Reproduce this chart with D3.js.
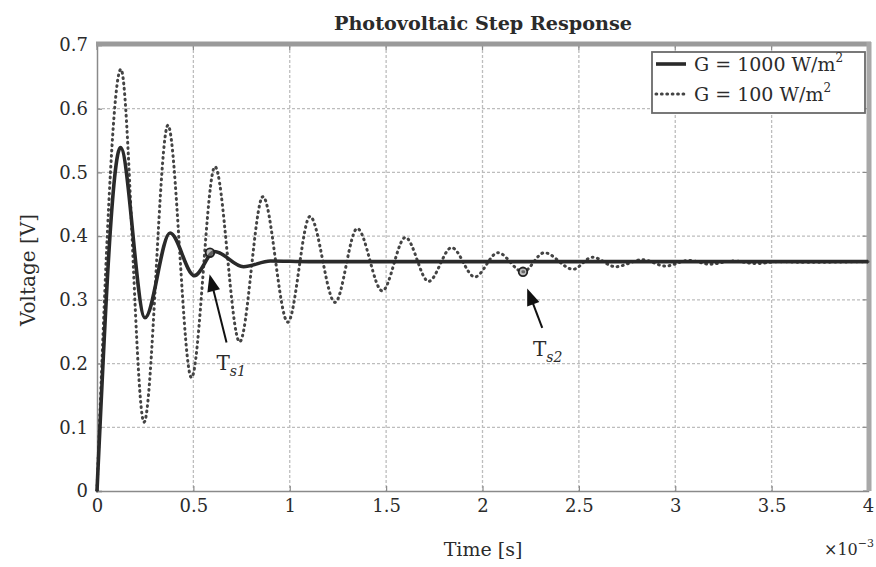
<!DOCTYPE html>
<html>
<head>
<meta charset="utf-8">
<script src="https://cdn.jsdelivr.net/npm/d3@7"></script>
<style>
  html, body { margin: 0; padding: 0; background: #fff; }
  svg { display: block; }
  text { font-family: "DejaVu Serif", "Liberation Serif", serif; fill: #2b2b2b; }
</style>
</head>
<body>
<svg id="chart" width="876" height="567"></svg>
<script>
// ---- data (time in ms, i.e. ×10^-3 s; voltage in V) ----
const timeG1000 = [0, 0.122, 0.249, 0.379, 0.505, 0.61, 0.76, 0.9, 1.1, 4.0];
const voltG1000 = [0, 0.539, 0.272, 0.405, 0.338, 0.376, 0.352, 0.361, 0.36, 0.36];

const timeG100 = [0, 0.124, 0.244, 0.368, 0.49, 0.612, 0.74, 0.861, 0.99, 1.105, 1.235, 1.35, 1.48, 1.60, 1.72, 1.84, 1.96, 2.08, 2.21, 2.32, 2.47, 2.57, 2.69, 2.83, 2.95, 3.07, 3.18, 3.30, 3.42, 3.54, 3.66, 4.0];
const voltG100 = [0, 0.662, 0.108, 0.574, 0.178, 0.509, 0.234, 0.462, 0.265, 0.431, 0.296, 0.412, 0.314, 0.398, 0.329, 0.382, 0.336, 0.374, 0.344, 0.374, 0.348, 0.367, 0.352, 0.363, 0.353, 0.362, 0.356, 0.361, 0.357, 0.36, 0.359, 0.36];

const xTicks = [0, 0.5, 1, 1.5, 2, 2.5, 3, 3.5, 4];
const xTickLabels = ["0", "0.5", "1", "1.5", "2", "2.5", "3", "3.5", "4"];
const yTicks = [0, 0.1, 0.2, 0.3, 0.4, 0.5, 0.6, 0.7];
const yTickLabels = ["0", "0.1", "0.2", "0.3", "0.4", "0.5", "0.6", "0.7"];

const seriesNames = ["G = 1000 W/m", "G = 100 W/m"];

// settling-time markers: [time, voltage] of the marked point
const settleLabels = ["s1", "s2"];
const settlePoints = [[0.586, 0.374], [2.21, 0.344]];
const arrowTips = [[0.584, 0.34], [2.232, 0.318]];
const arrowTails = [[0.672, 0.233], [2.31, 0.256]];
const labelAnchors = [[0.62, 0.19], [2.262, 0.212]];

// ---- layout ----
const svg = d3.select("#chart");
const x0 = 97, x1 = 868, yTop = 45, yBot = 491;
const x = d3.scaleLinear().domain([0, 4]).range([x0, x1]);
const y = d3.scaleLinear().domain([0, 0.7]).range([yBot, yTop]);

// grid
const grid = svg.append("g");
grid.selectAll("line.vg").data(xTicks.slice(1, -1)).join("line")
  .attr("x1", d => x(d)).attr("x2", d => x(d))
  .attr("y1", yTop).attr("y2", yBot)
  .attr("stroke", "#bdbdbd").attr("stroke-width", 1.3).attr("stroke-dasharray", "3,2");
grid.selectAll("line.hg").data(yTicks.slice(1, -1)).join("line")
  .attr("x1", x0).attr("x2", x1)
  .attr("y1", d => y(d)).attr("y2", d => y(d))
  .attr("stroke", "#bdbdbd").attr("stroke-width", 1.3).attr("stroke-dasharray", "3,2");

// axes (MATLAB style: inward ticks)
const xAxis = d3.axisBottom(x).tickValues(xTicks).tickFormat((d, i) => xTickLabels[i]).tickSize(-5).tickPadding(8);
const yAxis = d3.axisLeft(y).tickValues(yTicks).tickFormat((d, i) => yTickLabels[i]).tickSize(-5).tickPadding(9);
const gx = svg.append("g").attr("transform", `translate(0,${yBot})`).call(xAxis);
const gy = svg.append("g").attr("transform", `translate(${x0},0)`).call(yAxis);
[gx, gy].forEach(g => {
  g.select(".domain").attr("stroke", "#8a8a8a").attr("stroke-width", 1.5);
  g.selectAll(".tick line").attr("stroke", "#8a8a8a").attr("stroke-width", 1.2);
  g.selectAll(".tick text").attr("font-family", "DejaVu Serif, serif").attr("font-size", 18).attr("fill", "#2b2b2b");
});
// top and right ticks
svg.append("g").selectAll("line").data(xTicks).join("line")
  .attr("x1", d => x(d)).attr("x2", d => x(d)).attr("y1", yTop).attr("y2", yTop + 5)
  .attr("stroke", "#8a8a8a").attr("stroke-width", 1.2);
svg.append("g").selectAll("line").data(yTicks).join("line")
  .attr("x1", x1 - 5).attr("x2", x1).attr("y1", d => y(d)).attr("y2", d => y(d))
  .attr("stroke", "#8a8a8a").attr("stroke-width", 1.2);
// thick top & right frame
svg.append("line").attr("x1", x0 - 1).attr("x2", x1 + 3).attr("y1", yTop - 1).attr("y2", yTop - 1)
  .attr("stroke", "#9a9a9a").attr("stroke-width", 5);
svg.append("line").attr("x1", x1 + 1).attr("x2", x1 + 1).attr("y1", yTop - 3).attr("y2", yBot)
  .attr("stroke", "#a8a8a8").attr("stroke-width", 5);

// lines
const lineGen = d3.line().x(d => x(d[0])).y(d => y(d[1])).curve(d3.curveMonotoneX);
const dataG100 = timeG100.map((t, i) => [t, voltG100[i]]);
const dataG1000 = timeG1000.map((t, i) => [t, voltG1000[i]]);

svg.append("path").datum(dataG100).attr("d", lineGen)
  .attr("fill", "none").attr("stroke", "#444").attr("stroke-width", 3)
  .attr("stroke-dasharray", "0.8,4.6").attr("stroke-linecap", "round");
svg.append("path").datum(dataG1000).attr("d", lineGen)
  .attr("fill", "none").attr("stroke", "#2a2a2a").attr("stroke-width", 3.6)
  .attr("stroke-linejoin", "round");

// settling markers & arrows
const headLen = 17, headHalf = 6.5;
settleLabels.forEach((lab, i) => {
  svg.append("circle").attr("cx", x(settlePoints[i][0])).attr("cy", y(settlePoints[i][1]))
    .attr("r", 4.3).attr("fill", "#888").attr("fill-opacity", 0.55).attr("stroke", "#222").attr("stroke-width", 1.8);
  const tx = x(arrowTips[i][0]), ty = y(arrowTips[i][1]);
  const sxp = x(arrowTails[i][0]), syp = y(arrowTails[i][1]);
  const dx = tx - sxp, dy = ty - syp, L = Math.hypot(dx, dy);
  const ux = dx / L, uy = dy / L;
  const bx = tx - ux * headLen, by = ty - uy * headLen;
  svg.append("line").attr("x1", sxp).attr("y1", syp).attr("x2", bx + ux * 2).attr("y2", by + uy * 2)
    .attr("stroke", "#111").attr("stroke-width", 2);
  svg.append("path")
    .attr("d", `M${tx},${ty} L${bx - uy * headHalf},${by + ux * headHalf} L${bx + uy * headHalf},${by - ux * headHalf} Z`)
    .attr("fill", "#111");
  const t = svg.append("text").attr("x", x(labelAnchors[i][0])).attr("y", y(labelAnchors[i][1]))
    .attr("font-size", 20);
  t.append("tspan").text("T");
  t.append("tspan").attr("font-size", 14).attr("font-style", "italic").attr("dy", 6).text(lab);
});

// title and axis labels
svg.append("text").attr("x", 483).attr("y", 30).attr("text-anchor", "middle")
  .attr("font-size", 18).attr("font-weight", "bold")
  .attr("textLength", 298).attr("lengthAdjust", "spacingAndGlyphs")
  .text("Photovoltaic Step Response");
svg.append("text").attr("x", 483).attr("y", 556).attr("text-anchor", "middle")
  .attr("font-size", 19).text("Time [s]");
svg.append("text").attr("transform", "translate(35,270) rotate(-90)").attr("text-anchor", "middle")
  .attr("font-size", 20).text("Voltage [V]");
const sx = svg.append("text").attr("x", 874).attr("y", 555).attr("text-anchor", "end").attr("font-size", 16);
sx.append("tspan").text("×10");
sx.append("tspan").attr("font-size", 11).attr("dy", -8).text("−3");

// legend
const lx0 = x1 - 216, ly0 = yTop + 7, lw = 213, lh = 61;
svg.append("rect").attr("x", lx0).attr("y", ly0).attr("width", lw).attr("height", lh)
  .attr("fill", "#fff").attr("stroke", "#6a6a6a").attr("stroke-width", 1.8);
const legStyles = [
  { stroke: "#2a2a2a", width: 3.6, dash: null },
  { stroke: "#444", width: 3, dash: "0.8,4.6" }
];
seriesNames.forEach((name, i) => {
  const cy = ly0 + 12 + i * 30;
  svg.append("line").attr("x1", lx0 + 4).attr("x2", lx0 + 34).attr("y1", cy).attr("y2", cy)
    .attr("stroke", legStyles[i].stroke).attr("stroke-width", legStyles[i].width)
    .attr("stroke-dasharray", legStyles[i].dash).attr("stroke-linecap", legStyles[i].dash ? "round" : "butt");
  const t = svg.append("text").attr("x", lx0 + 42).attr("y", cy + 7).attr("font-size", 19);
  t.append("tspan").text(name);
  t.append("tspan").attr("font-size", 12).attr("dy", -9).text("2");
});
</script>
</body>
</html>
